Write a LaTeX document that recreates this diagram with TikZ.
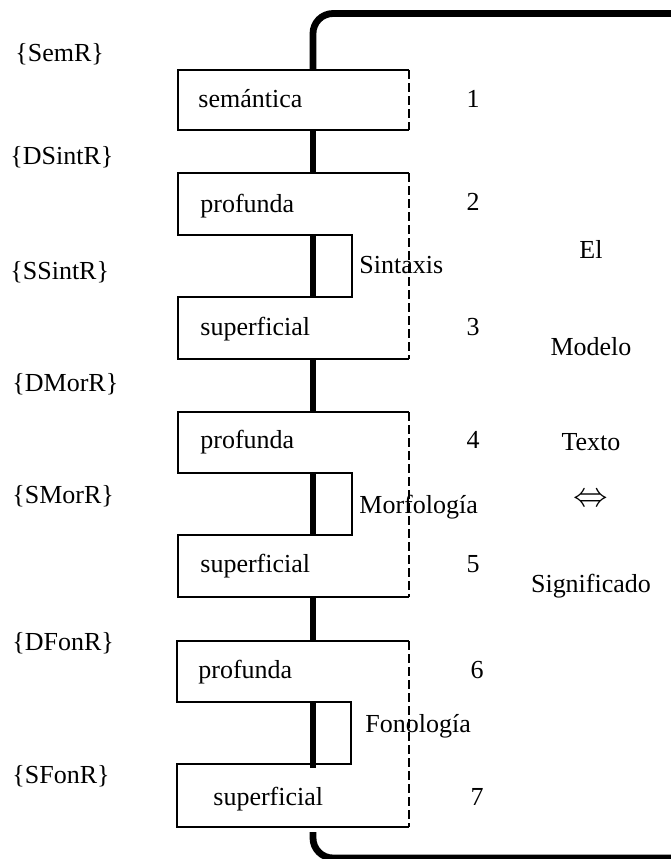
\documentclass[tikz,border=0pt]{standalone}
\usepackage{fontspec}
\setmainfont{Liberation Serif}
\begin{document}
\begin{tikzpicture}[x=0.5pt,y=-0.5pt,
  spine/.style={line width=3.4pt,line cap=butt},
  frame/.style={line width=0.75pt,line join=miter},
  edge/.style={line width=0.75pt,dash pattern=on 4.5pt off 2pt},
  txt/.style={inner sep=0pt,font=\fontsize{13}{15}\selectfont},
  lvl/.style={txt,anchor=west},
  intxt/.style={txt,anchor=base west},
  num/.style={txt,anchor=base},
  side/.style={txt,anchor=base}]
\useasboundingbox (0,0) rectangle (671,859);
\clip (0,0) rectangle (671,859);

% outer rounded frame (its right side lies past the page edge)
\draw[spine,rounded corners=10pt] (313,70) -- (313,13.5) -- (720,13.5)
  -- (720,858) -- (313,858) -- (313,832);

% spine segments joining the levels
\foreach \a/\b in {130/173,235/297,359/412,473/535,597/641,702/768}
  \draw[spine] (313,\a) -- (313,\b);

% semantic level box
\draw[frame] (409,70) -- (178,70) -- (178,130) -- (409,130);
\draw[edge] (409,70) -- (409,130);

% paired boxes: deep / surface for each component
\foreach \t/\m/\n/\b/\r/\l in {173/235/297/359/352/178,412/473/535/597/352/178,641/702/764/827/351/177}{
  \draw[frame] (409,\t) -- (\l,\t) -- (\l,\m) -- (\r,\m) -- (\r,\n)
     -- (\l,\n) -- (\l,\b) -- (409,\b);
  \draw[edge] (409,\t) -- (409,\b);
}

% representation labels
\node[lvl] (semr)   at (15,54)  {\{SemR\}};
\node[lvl] (dsintr) at (10,157) {\{DSintR\}};
\node[lvl] (ssintr) at (10,272) {\{SSintR\}};
\node[lvl] (dmorr)  at (12,384) {\{DMorR\}};
\node[lvl] (smorr)  at (12,496) {\{SMorR\}};
\node[lvl] (dfonr)  at (12,643) {\{DFonR\}};
\node[lvl] (sfonr)  at (12,776) {\{SFonR\}};

% box texts
\node[intxt] (sem) at (198,107) {semántica};
\node[intxt] (p1)  at (200,212) {profunda};
\node[intxt] (s1)  at (200,335) {superficial};
\node[intxt] (p2)  at (200,448) {profunda};
\node[intxt] (s2)  at (200,572) {superficial};
\node[intxt] (p3)  at (198,678) {profunda};
\node[intxt] (s3)  at (213,805) {superficial};

% component names
\node[intxt] (sint) at (359,273) {Sintaxis};
\node[intxt] (morf) at (359,513) {Morfología};
\node[intxt] (fon)  at (365,732) {Fonología};

% level numbers
\node[num] (n1) at (473,107) {1};
\node[num] (n2) at (473,210) {2};
\node[num] (n3) at (473,335) {3};
\node[num] (n4) at (473,448) {4};
\node[num] (n5) at (473,572) {5};
\node[num] (n6) at (477,678) {6};
\node[num] (n7) at (477,805) {7};

% model title
\node[side] (el)  at (591,258) {El};
\node[side] (mod) at (591,355) {Modelo};
\node[side] (tex) at (591,450) {Texto};
\node[inner sep=0pt,font=\fontsize{16}{18}\selectfont] (eq) at (591,500) {$\Leftrightarrow$};
\node[side] (sig) at (591,592) {Significado};
\end{tikzpicture}
\end{document}
